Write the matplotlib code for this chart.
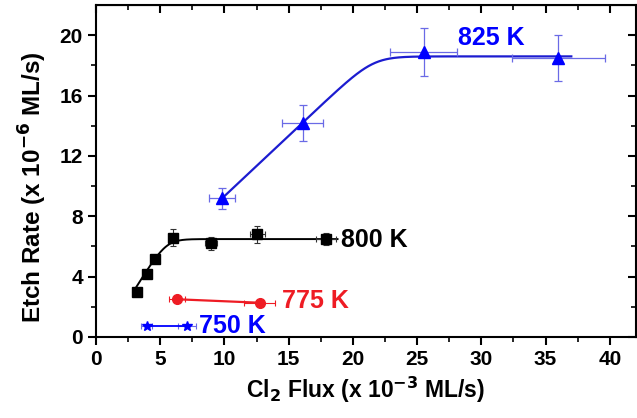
import numpy as np
import matplotlib
matplotlib.use('Agg')
import matplotlib.pyplot as plt

plt.rcParams['font.family'] = ['Liberation Sans', 'DejaVu Sans']
plt.rcParams['font.weight'] = 'bold'
plt.rcParams['mathtext.default'] = 'bf'

# 825 K data
x825 = [9.8, 16.1, 25.5, 36.0]
y825 = [9.2, 14.2, 18.9, 18.5]
xe825 = [1.0, 1.6, 2.6, 3.6]
ye825 = [0.7, 1.2, 1.6, 1.55]

# 800 K data
x800 = [3.17, 3.94, 4.6, 5.97, 8.95, 12.55, 17.9]
y800 = [3.0, 4.17, 5.14, 6.58, 6.2, 6.8, 6.49]
xe800 = [0.15, 0.2, 0.25, 0.3, 0.45, 0.6, 0.8]
ye800 = [0.15, 0.2, 0.25, 0.55, 0.45, 0.55, 0.4]

# 775 K data
x775 = [6.33, 12.76]
y775 = [2.5, 2.27]
xe775 = [0.62, 1.2]
ye775 = [0.1, 0.1]

# 750 K data
x750 = [3.94, 7.1]
y750 = [0.75, 0.75]
xe750 = [0.4, 0.7]
ye750 = [0.05, 0.05]

# fit parameters (linear rise into a saturation plateau)
fit825 = dict(x0=9.7, y0=9.1, slope=0.8, plateau=18.6, k=0.7, xmax=37.0)
fit800 = dict(x0=2.9, y0=3.0, slope=1.36, plateau=6.49, k=0.7, xmax=18.8)


def sat_curve(p):
    xs = np.linspace(p['x0'], p['xmax'], 300)
    lin = p['y0'] + p['slope'] * (xs - p['x0'])
    k = p['k']
    ys = -k * np.logaddexp(-lin / k, -p['plateau'] / k)
    return xs, ys


blue = '#0000ff'
blue_line = '#1c1cd0'
blue_err = '#6a6ae6'
red = '#ee1c24'

fig = plt.figure(figsize=(6.37, 4.18), dpi=100)
ax = fig.add_axes([0.1507, 0.1938, 0.847, 0.794])

# 825 K
xs, ys = sat_curve(fit825)
ax.plot(xs, ys, color=blue_line, lw=1.6, zorder=2)
ax.errorbar(x825, y825, xerr=xe825, yerr=ye825, fmt='^', color=blue,
            ms=9, ecolor=blue_err, elinewidth=0.9, capsize=3, capthick=0.9, zorder=3)
ax.text(28.2, 19.8, '825 K', color=blue, fontsize=18, fontweight='bold', va='center')

# 800 K
xs, ys = sat_curve(fit800)
ax.plot(xs, ys, color='black', lw=1.4, zorder=2)
ax.errorbar(x800, y800, xerr=xe800, yerr=ye800, fmt='s', color='black',
            ms=6.5, ecolor='#333333', elinewidth=0.8, capsize=2.5, capthick=0.8, zorder=3)
ax.text(19.1, 6.45, '800 K', color='black', fontsize=18, fontweight='bold', va='center')

# 775 K
ax.errorbar(x775, y775, xerr=xe775, yerr=ye775, fmt='o-', color=red,
            ms=7, lw=1.6, elinewidth=0.8, capsize=2.5, capthick=0.8, zorder=3)
ax.text(14.5, 2.4, '775 K', color=red, fontsize=18, fontweight='bold', va='center')

# 750 K
ax.errorbar(x750, y750, xerr=xe750, yerr=ye750, fmt='*-', color=blue,
            ms=7, lw=1.3, ecolor=blue_err, elinewidth=0.8, capsize=2.5, capthick=0.8, zorder=3)
ax.text(8.0, 0.72, '750 K', color=blue, fontsize=18, fontweight='bold', va='center')

ax.set_xlim(0, 42)
ax.set_ylim(0, 22)
ax.set_xticks(np.arange(0, 41, 5))
ax.set_xticks(np.arange(0, 42, 2.5), minor=True)
ax.set_yticks(np.arange(0, 21, 4))
ax.set_yticks(np.arange(0, 22, 2), minor=True)

for s in ax.spines.values():
    s.set_linewidth(1.5)
ax.tick_params(which='major', direction='out', length=6, width=1.5, labelsize=15)
ax.tick_params(which='minor', direction='out', length=3.5, width=1.2)

top = ax.secondary_xaxis('top')
top.set_xticks(np.arange(0, 41, 5))
top.set_xticks(np.arange(0, 42, 2.5), minor=True)
top.tick_params(which='major', direction='in', length=6, width=1.5, labeltop=False)
top.tick_params(which='minor', direction='in', length=3.5, width=1.2)
right = ax.secondary_yaxis('right')
right.set_yticks(np.arange(0, 21, 4))
right.set_yticks(np.arange(0, 22, 2), minor=True)
right.tick_params(which='major', direction='in', length=6, width=1.5, labelright=False)
right.tick_params(which='minor', direction='in', length=3.5, width=1.2)

ax.set_xlabel('Cl$_2$ Flux (x 10$^{-3}$ ML/s)', fontsize=16.5, fontweight='bold')
ax.set_ylabel('Etch Rate (x 10$^{-6}$ ML/s)', fontsize=17.5, fontweight='bold')
ax.xaxis.set_label_coords(0.5, -0.115)
ax.yaxis.set_label_coords(-0.087, 0.452)

fig.savefig('out.png', dpi=100)
